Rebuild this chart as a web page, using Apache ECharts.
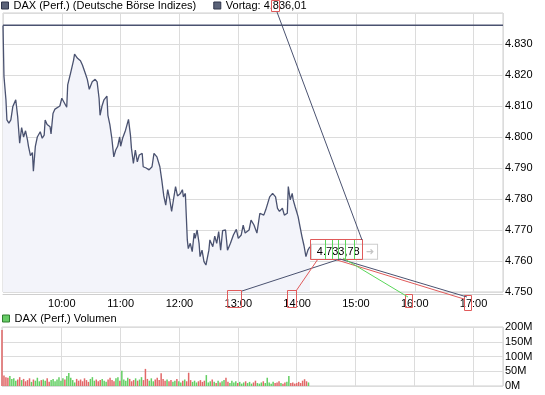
<!DOCTYPE html>
<html><head><meta charset="utf-8">
<script src="https://cdn.jsdelivr.net/npm/echarts@6/dist/echarts.min.js"></script>
<style>html,body{margin:0;padding:0;background:#fff}#c{width:545px;height:395px}</style>
</head><body><div id="c"></div>
<script>
// ---- data (minutes after 09:00) ----
const OPEN_HOUR = 9;
const SESSION_END = 510; // 17:30
const priceMin = [0,1,3,4,6,8,10,13,14,15,17,19,21,23,25,26,28,30,31,33,35,38,40,42,43,45,48,49,51,53,55,58,60,62,65,66,69,71,72,73,76,79,81,82,84,86,88,91,94,96,98,99,101,103,106,107,109,111,113,115,117,119,120,122,125,128,130,131,133,135,137,139,142,143,146,149,152,154,157,160,162,164,166,168,170,172,174,176,178,181,183,184,186,187,188,189,191,193,195,196,198,200,201,203,205,207,210,211,214,216,218,220,222,224,227,229,232,235,238,240,243,245,247,251,253,256,259,262,264,266,268,270,272,275,278,280,282,285,287,290,291,293,295,296,298,301,303,305,307,309,311,313];
const priceVal = [4836.0,4819.5,4812.0,4805.5,4804.5,4805.5,4809.8,4812.0,4812.6,4806.5,
4798.0,4803.0,4800.0,4802.0,4799.0,4797.0,4794.0,4795.0,4789.0,4797.0,
4800.0,4801.7,4799.6,4800.6,4805.5,4804.0,4803.3,4801.0,4807.6,4809.0,
4809.6,4810.0,4812.5,4812.8,4809.6,4816.8,4820.7,4820.5,4824.8,4826.7,
4825.4,4824.6,4823.2,4823.8,4820.5,4818.6,4815.4,4817.8,4818.6,4817.8,
4812.5,4807.0,4810.0,4812.0,4813.2,4807.0,4804.0,4799.6,4793.6,4795.8,
4797.0,4800.0,4797.0,4799.6,4802.2,4805.7,4800.6,4796.4,4791.5,4795.8,
4792.0,4794.2,4794.7,4790.4,4790.0,4789.4,4790.4,4794.7,4793.6,4790.4,
4786,4781,4778,4783,4780,4776,4780,4784,4781,4781.8,
4783,4780.7,4781.8,4774.3,4766.8,4764,4765.7,4763,4769,4767.3,
4770,4765.7,4761.4,4763.5,4759.8,4758.7,4763.5,4766.8,4764.6,4768,
4765.7,4769.5,4763.5,4769.8,4770,4763.5,4765.7,4768.4,4770.2,4767.3,
4768.4,4771.6,4769,4770,4773.2,4771.6,4769,4775.4,4776,4774.8,
4776.5,4778.6,4780.7,4781.8,4780.7,4777,4776,4777,4774.8,4775.4,
4784,4779.7,4781.8,4779.7,4777.5,4774.3,4771,4767.8,4765,4761.4,
4763.5,4764.6];
const prevClose = 4836.01;
const lastLabel = '4.733,78';
// volume in millions, one bar every 2 minutes from 09:00
const VOL_STEP = 2;
const volumes = [190,
36,30,28,34,24,26,18,22,30,20,
24,16,20,26,14,22,18,28,16,20,
22,18,26,14,20,24,16,22,30,18,
26,22,34,44,28,20,12,24,18,22,
16,26,20,14,24,30,18,22,16,20,
24,18,14,22,28,20,16,26,30,18,
52,22,18,28,24,16,20,26,18,22,
30,20,58,24,18,26,16,22,28,20,
43,24,18,22,16,20,14,18,24,16,
12,18,22,16,45,20,14,18,12,16,
20,14,18,37,12,16,22,14,10,18,
12,16,20,28,14,10,18,12,16,10,
14,8,12,16,10,14,8,12,18,10,
8,12,16,10,28,12,8,14,10,12,
16,10,8,12,14,34,10,12,8,10,
14,10,18,23,16,12];
const priceTicks = [4750,4760,4770,4780,4790,4800,4810,4820,4830,4840];
const volTicks = [0,50,100,150,200];

// ---- helpers ----
function fmtDE(v, dec){
  const s = v.toFixed(dec||0).split('.');
  const i = s[0];
  const th = i.length>3 ? i.slice(0,i.length-3)+'.'+i.slice(-3) : i;
  return s[1] ? th+','+s[1] : th;
}
function priceAt(m){
  if (m <= priceMin[0]) return m < 0 ? prevClose : priceVal[0];
  for (let i=1;i<priceMin.length;i++){
    if (m <= priceMin[i]){
      const a=priceMin[i-1], b=priceMin[i];
      return priceVal[i-1] + (priceVal[i]-priceVal[i-1])*(m-a)/(b-a);
    }
  }
  return priceVal[priceVal.length-1];
}
const UP='#63cf63', DOWN='#e26868';
const priceData = priceMin.map((m,i)=>[m, priceVal[i]]);
const volData = volumes.map((v,i)=>{
  const t=i*VOL_STEP;
  const up = priceAt(t) >= priceAt(t-VOL_STEP);
  return {value:[t,v], itemStyle:{color: up?UP:DOWN}};
});
const NAME_PRICE='DAX (Perf.) (Deutsche Börse Indizes)';
const NAME_PREV='Vortag: '+fmtDE(prevClose,2);
const NAME_VOL='DAX (Perf.) Volumen';
const FONT='Liberation Sans';
const GRID_COL='#dcdcdc', BORDER_COL='#cfcfcf', LINE_COL='#4a5270';

const chart = echarts.init(document.getElementById('c'), null, {renderer:'canvas'});
const RED='#e05a5a', GREEN='#5ad65a';
function rect(x,y,w,h){return {type:'rect',z:100,shape:{x,y,width:w,height:h},style:{fill:'none',stroke:RED,lineWidth:1}};}
function seg(x1,y1,x2,y2,c){return {type:'line',z:100,shape:{x1,y1,x2,y2},style:{stroke:c,lineWidth:1}};}

chart.setOption({
  animation:false,
  textStyle:{fontFamily:FONT},
  legend:[
    {left:1, top:0, itemWidth:7, itemHeight:7, itemGap:17, icon:'rect', padding:0,
     textStyle:{fontFamily:FONT,fontSize:11,color:'#000'},
     data:[{name:NAME_PRICE,itemStyle:{color:'#5a6278',borderColor:'#2e344a',borderWidth:1}},
           {name:NAME_PREV,itemStyle:{color:'#5a6278',borderColor:'#2e344a',borderWidth:1}}]},
    {left:2, top:313, itemWidth:7, itemHeight:7, icon:'rect', padding:0,
     textStyle:{fontFamily:FONT,fontSize:11,color:'#000'},
     data:[{name:NAME_VOL,itemStyle:{color:'#66cc66',borderColor:'#2f7d2f',borderWidth:1}}]}
  ],
  grid:[
    {left:2, top:13, width:501, height:279, show:true, borderColor:BORDER_COL, borderWidth:1, backgroundColor:'transparent'},
    {left:2, top:327, width:501, height:59, show:true, borderColor:BORDER_COL, borderWidth:1, backgroundColor:'transparent'}
  ],
  xAxis:[
    {type:'value', gridIndex:0, min:0, max:SESSION_END, interval:60, offset:2,
     axisLine:{show:true,lineStyle:{color:BORDER_COL}}, axisTick:{show:false},
     splitLine:{show:true,lineStyle:{color:GRID_COL}},
     axisLabel:{margin:4, fontSize:11, color:'#000', fontFamily:FONT,
       formatter:m=> (m<=0||m>=SESSION_END)?'':(OPEN_HOUR+m/60)+':00'}},
    {type:'value', gridIndex:1, min:0, max:SESSION_END, interval:60,
     axisLine:{show:false}, axisTick:{show:false}, axisLabel:{show:false},
     splitLine:{show:true,lineStyle:{color:GRID_COL}}}
  ],
  yAxis:[
    {type:'value', gridIndex:0, position:'right', min:priceTicks[0], max:priceTicks[priceTicks.length-1], interval:10,
     axisLine:{show:false}, axisTick:{show:false},
     splitLine:{show:true,lineStyle:{color:GRID_COL}},
     axisLabel:{margin:2, fontSize:11, color:'#000', fontFamily:FONT, showMaxLabel:false,
       formatter:v=>fmtDE(v)}},
    {type:'value', gridIndex:1, position:'right', min:volTicks[0], max:volTicks[volTicks.length-1], interval:50,
     axisLine:{show:false}, axisTick:{show:false},
     splitLine:{show:true,lineStyle:{color:GRID_COL}},
     axisLabel:{margin:2, fontSize:11, color:'#000', fontFamily:FONT, formatter:v=>v+'M'}}
  ],
  series:[
    {name:NAME_PRICE, type:'line', xAxisIndex:0, yAxisIndex:0, data:priceData,
     showSymbol:false, symbol:'none', lineStyle:{color:LINE_COL,width:1.3}, itemStyle:{color:LINE_COL},
     areaStyle:{color:'#f3f4fa',origin:'start',opacity:1},
     endLabel:{show:true, distance:2, offset:[0,5], formatter:()=>'{v|'+lastLabel+'}{a|➜}',
       backgroundColor:'#fff', borderColor:'#cccccc', borderWidth:1, padding:[2,3,1,5],
       rich:{v:{fontFamily:FONT,fontSize:11,color:'#000',padding:[0,6,0,0]},
             a:{fontFamily:'DejaVu Sans',fontSize:10,color:'#c4c4c4'}}}},
    {name:NAME_PREV, type:'line', xAxisIndex:0, yAxisIndex:0, data:[[0,prevClose],[SESSION_END,prevClose]],
     showSymbol:false, symbol:'none', lineStyle:{color:LINE_COL,width:1.5}, itemStyle:{color:LINE_COL}},
    {name:NAME_VOL, type:'bar', xAxisIndex:1, yAxisIndex:1, data:volData, barWidth:1.5, itemStyle:{color:UP}}
  ],
  graphic:[
    rect(271.5,0.5,8,11), rect(310.5,239.5,52,20), rect(227.5,290.5,14,17),
    rect(287.5,290.5,9,17), rect(405.5,294.5,7,13), rect(464.5,295.5,7,15),
    seg(277,12,362,240,LINE_COL), seg(242,291,340,259,LINE_COL), seg(340,259,467,297,LINE_COL),
    seg(296,291,318,259,RED), seg(337,260,464,299,RED), seg(343,258,408,297,GREEN),
    seg(325.5,240,325.5,259,GREEN), seg(332.5,240,332.5,259,GREEN), seg(338.5,240,338.5,259,GREEN),
    seg(345.5,240,345.5,259,GREEN), seg(354.5,240,354.5,259,GREEN)
  ]
});
</script></body></html>
